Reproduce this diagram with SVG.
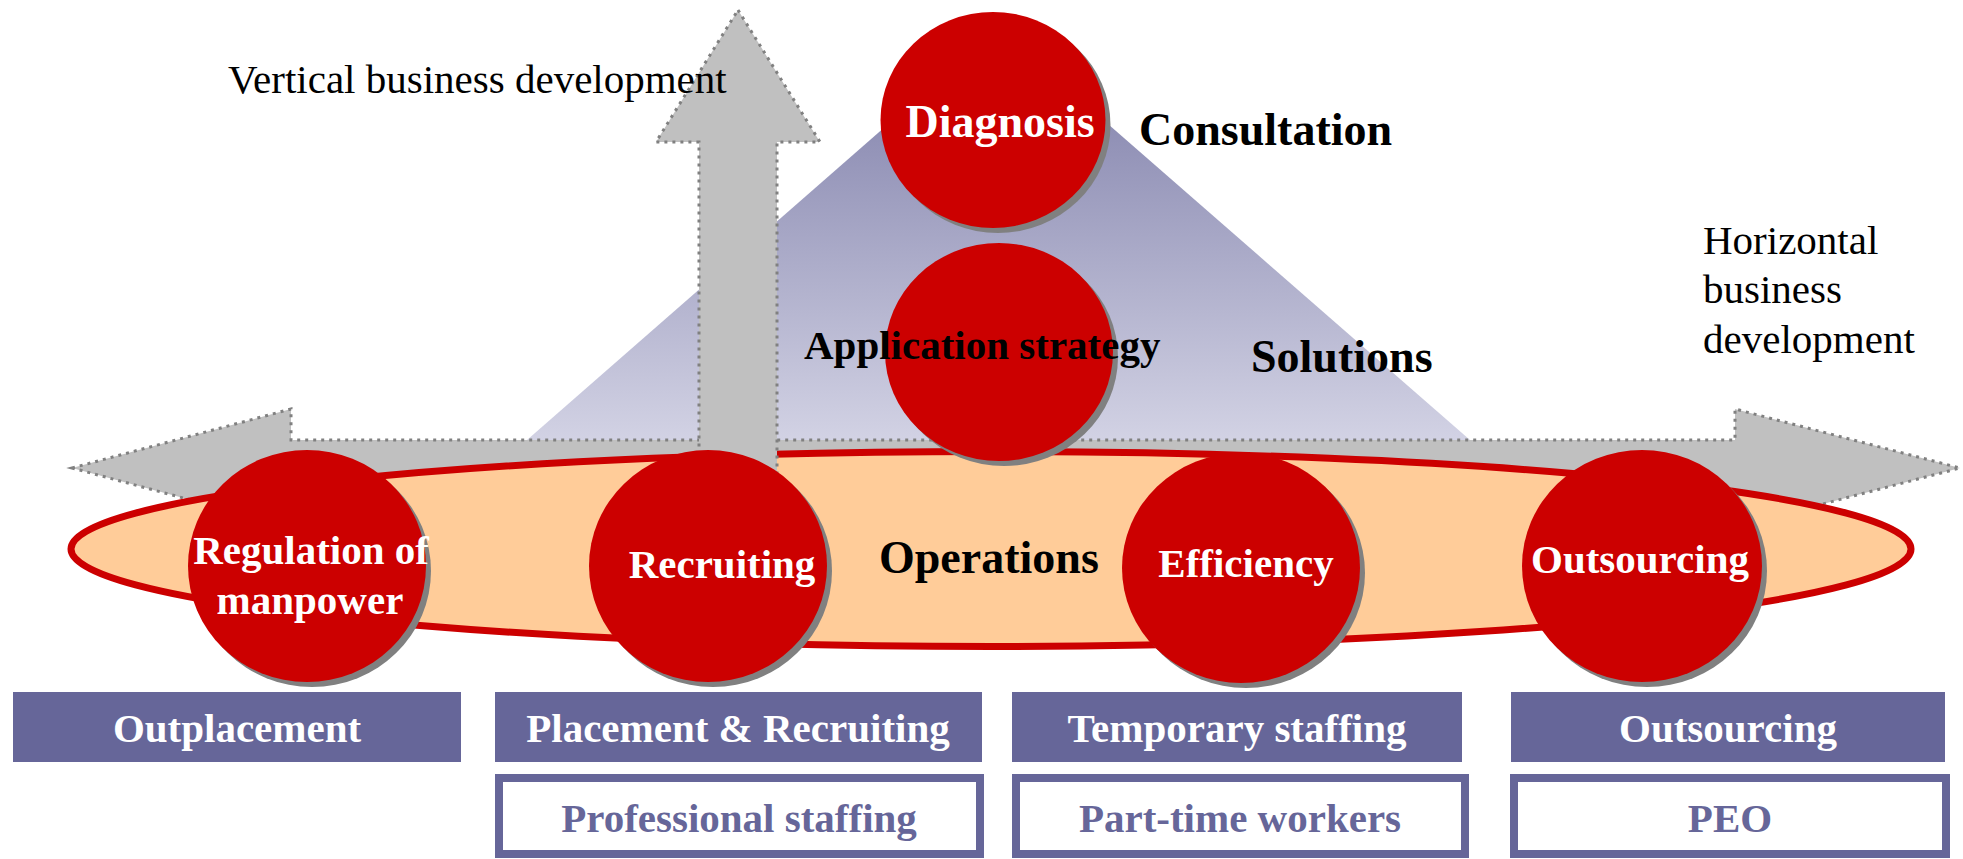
<svg xmlns="http://www.w3.org/2000/svg" width="1963" height="859" viewBox="0 0 1963 859">
  <defs>
    <linearGradient id="triGrad" gradientUnits="userSpaceOnUse" x1="0" y1="28" x2="0" y2="440">
      <stop offset="0" stop-color="#7a7aa6"/>
      <stop offset="1" stop-color="#d2d2e4"/>
    </linearGradient>
    <style>
      .lbl { font-family: "Liberation Serif", "Times New Roman", serif; font-size: 41px; fill: #000; }
      .big { font-family: "Liberation Serif", "Times New Roman", serif; font-size: 46px; font-weight: bold; fill: #000; }
      .ctext { font-family: "Liberation Serif", "Times New Roman", serif; font-size: 41px; font-weight: bold; fill: #fff; text-anchor: middle; }
      .arrow { fill: #c0c0c0; stroke: #808080; stroke-width: 3; stroke-dasharray: 3 5; }
      .disc { fill: #cc0000; }
      .shadow { fill: #808080; }
      .boxA { fill: #666699; }
      .boxB { fill: #ffffff; stroke: #666699; stroke-width: 8; }
      .btextA { font-family: "Liberation Serif", "Times New Roman", serif; font-size: 41px; font-weight: bold; fill: #fff; text-anchor: middle; }
      .btextB { font-family: "Liberation Serif", "Times New Roman", serif; font-size: 41px; font-weight: bold; fill: #666699; text-anchor: middle; }
    </style>
  </defs>

  <rect width="1963" height="859" fill="#ffffff"/>

  <!-- Triangle -->
  <g id="pyramid">
    <polygon points="998,28 1470,440 527,440" fill="url(#triGrad)"/>
  </g>

  <!-- Horizontal arrow -->
  <g id="connectors">
    <polygon id="h-arrow" class="arrow" points="72,468 291,409 291,440 1735,440 1735,409 1960,468 1735,527 1735,496 291,496 291,527"/>
  </g>

  <!-- Operations ellipse -->
  <g id="operations">
    <ellipse cx="991" cy="549" rx="920" ry="97.5" fill="#ffcc99" stroke="#cc0000" stroke-width="7"/>
    <text class="big" x="879" y="573">Operations</text>
  </g>

  <!-- Vertical arrow (over ellipse) -->
  <g id="connectors-vertical">
    <polygon id="v-arrow" class="arrow" points="738,10 820,142 777,142 777,560 699,560 699,142 656,142"/>
  </g>

  <!-- Upper circles -->
  <g id="node-diagnosis">
    <ellipse class="shadow" cx="998" cy="125" rx="112.5" ry="108"/>
    <ellipse class="disc" cx="993" cy="120" rx="112.5" ry="108"/>
    <text class="ctext" x="1000" y="137" style="font-size:46px">Diagnosis</text>
  </g>
  <g id="node-application">
    <ellipse class="shadow" cx="1004" cy="357" rx="114" ry="109"/>
    <ellipse class="disc" cx="999" cy="352" rx="114" ry="109"/>
    <text class="big" x="804" y="359" style="font-size:41px">Application strategy</text>
  </g>

  <!-- Lower circles -->
  <g id="node-regulation">
    <ellipse class="shadow" cx="312" cy="571" rx="119" ry="116"/>
    <ellipse class="disc" cx="307" cy="566" rx="119" ry="116"/>
    <text class="ctext" x="311" y="564">Regulation of</text>
    <text class="ctext" x="310" y="614">manpower</text>
  </g>
  <g id="node-recruiting">
    <ellipse class="shadow" cx="713" cy="571" rx="119" ry="116"/>
    <ellipse class="disc" cx="708" cy="566" rx="119" ry="116"/>
    <text class="ctext" x="722" y="578">Recruiting</text>
  </g>
  <g id="node-efficiency">
    <ellipse class="shadow" cx="1246" cy="573" rx="119" ry="115"/>
    <ellipse class="disc" cx="1241" cy="568" rx="119" ry="115"/>
    <text class="ctext" x="1246" y="577">Efficiency</text>
  </g>
  <g id="node-outsourcing-circle">
    <ellipse class="shadow" cx="1647" cy="571" rx="120" ry="116"/>
    <ellipse class="disc" cx="1642" cy="566" rx="120" ry="116"/>
    <text class="ctext" x="1640" y="573">Outsourcing</text>
  </g>

  <!-- Free labels -->
  <g id="labels">
    <text class="lbl" x="228" y="93">Vertical business development</text>
    <text class="big" x="1139" y="145">Consultation</text>
    <text class="big" x="1251" y="372">Solutions</text>
    <text class="lbl" x="1703" y="254">Horizontal</text>
    <text class="lbl" x="1703" y="303">business</text>
    <text class="lbl" x="1703" y="353">development</text>
  </g>

  <!-- Bottom boxes row 1 -->
  <g id="box-outplacement">
    <rect class="boxA" x="13" y="692" width="448" height="70"/>
    <text class="btextA" x="237" y="742">Outplacement</text>
  </g>
  <g id="box-placement">
    <rect class="boxA" x="495" y="692" width="487" height="70"/>
    <text class="btextA" x="738" y="742">Placement &amp; Recruiting</text>
  </g>
  <g id="box-temporary">
    <rect class="boxA" x="1012" y="692" width="450" height="70"/>
    <text class="btextA" x="1237" y="742">Temporary staffing</text>
  </g>
  <g id="box-outsourcing">
    <rect class="boxA" x="1511" y="692" width="434" height="70"/>
    <text class="btextA" x="1728" y="742">Outsourcing</text>
  </g>

  <!-- Bottom boxes row 2 -->
  <g id="box-professional">
    <rect class="boxB" x="499" y="778" width="481" height="76"/>
    <text class="btextB" x="739" y="832">Professional staffing</text>
  </g>
  <g id="box-parttime">
    <rect class="boxB" x="1016" y="778" width="449" height="76"/>
    <text class="btextB" x="1240" y="832">Part-time workers</text>
  </g>
  <g id="box-peo">
    <rect class="boxB" x="1514" y="778" width="432" height="76"/>
    <text class="btextB" x="1730" y="832">PEO</text>
  </g>
</svg>
